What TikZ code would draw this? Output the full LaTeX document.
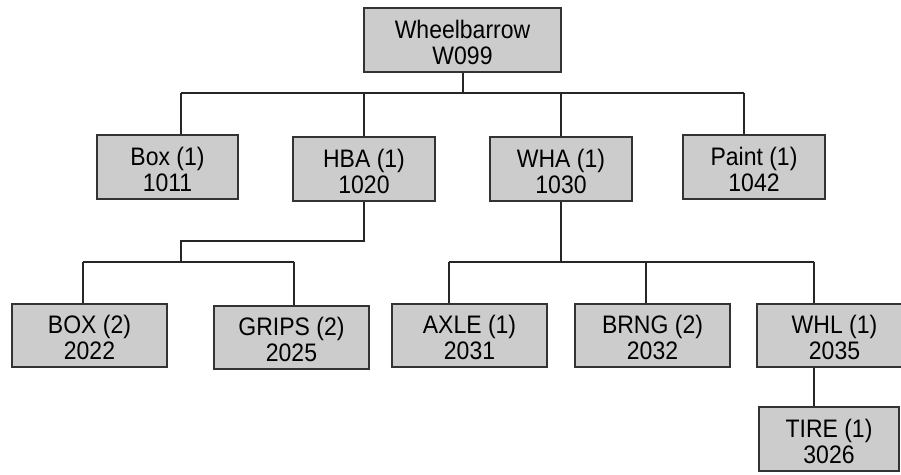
\documentclass[tikz,border=0pt]{standalone}
\usepackage{fontspec}
\setmainfont{Liberation Sans}
\newcommand{\partlbl}[2]{\raisebox{-12.8pt}[0pt][0pt]{\scalebox{1}[1.1]{\begin{tabular}{@{}c@{}}#1\\#2\end{tabular}}}}
\begin{document}
\begin{tikzpicture}[x=1pt,y=-1pt,
  part/.style={draw=black!80, fill=black!20, line width=1.1pt, rectangle, inner sep=0pt,
    align=center, font=\fontsize{23}{24}\selectfont},
  link/.style={draw=black!85, line width=1.1pt}]
\useasboundingbox (0,0) rectangle (901,474);
\clip (0,0) rectangle (901,474);
% nodes: positions given by centre, size
\node[part, minimum width=197pt, minimum height=64pt] (root) at (462.5,40) {\partlbl{Wheelbarrow}{W099}};
\node[part, minimum width=141pt, minimum height=64pt] (box1) at (167.5,167) {\partlbl{Box (1)}{1011}};
\node[part, minimum width=142pt, minimum height=64pt] (hba) at (364,169) {\partlbl{HBA (1)}{1020}};
\node[part, minimum width=142pt, minimum height=64pt] (wha) at (561,169) {\partlbl{WHA (1)}{1030}};
\node[part, minimum width=142pt, minimum height=64pt] (paint) at (754,167) {\partlbl{Paint (1)}{1042}};
\node[part, minimum width=155pt, minimum height=63pt] (box2) at (89.5,335.5) {\partlbl{BOX (2)}{2022}};
\node[part, minimum width=155pt, minimum height=63pt] (grips) at (291.5,337.5) {\partlbl{GRIPS (2)}{2025}};
\node[part, minimum width=155pt, minimum height=63pt] (axle) at (469.5,335.5) {\partlbl{AXLE (1)}{2031}};
\node[part, minimum width=155pt, minimum height=63pt] (brng) at (652.5,335.5) {\partlbl{BRNG (2)}{2032}};
\node[part, minimum width=155pt, minimum height=63pt] (whl) at (834.5,335.5) {\partlbl{WHL (1)}{2035}};
\node[part, minimum width=140pt, minimum height=64pt] (tire) at (829,439) {\partlbl{TIRE (1)}{3026}};
% bus coordinates
\coordinate (r0) at (463,93);
\coordinate (s1) at (181,93);
\coordinate (s2) at (364,93);
\coordinate (s3) at (561,93);
\coordinate (s4) at (744,93);
\coordinate (h1) at (364,241);
\coordinate (h2) at (181,241);
\coordinate (h3) at (181,262);
\coordinate (t1) at (83,262);
\coordinate (t2) at (294,262);
\coordinate (w0) at (561,262);
\coordinate (u1) at (449,262);
\coordinate (u2) at (646,262);
\coordinate (u3) at (814,262);
% level 1
\draw[link] (root.south -| r0) -- (r0);
\draw[link] (s1) -- (s4);
\draw[link] (s1) -- (box1.north -| s1);
\draw[link] (s2) -- (hba.north -| s2);
\draw[link] (s3) -- (wha.north -| s3);
\draw[link] (s4) -- (paint.north -| s4);
% HBA children
\draw[link] (hba.south) -- (h1) -- (h2) -- (h3);
\draw[link] (t1) -- (t2);
\draw[link] (t1) -- (box2.north -| t1);
\draw[link] (t2) -- (grips.north -| t2);
% WHA children
\draw[link] (wha.south) -- (w0);
\draw[link] (u1) -- (u3);
\draw[link] (u1) -- (axle.north -| u1);
\draw[link] (u2) -- (brng.north -| u2);
\draw[link] (u3) -- (whl.north -| u3);
% WHL child
\draw[link] (whl.south -| u3) -- (tire.north -| u3);
\end{tikzpicture}
\end{document}
